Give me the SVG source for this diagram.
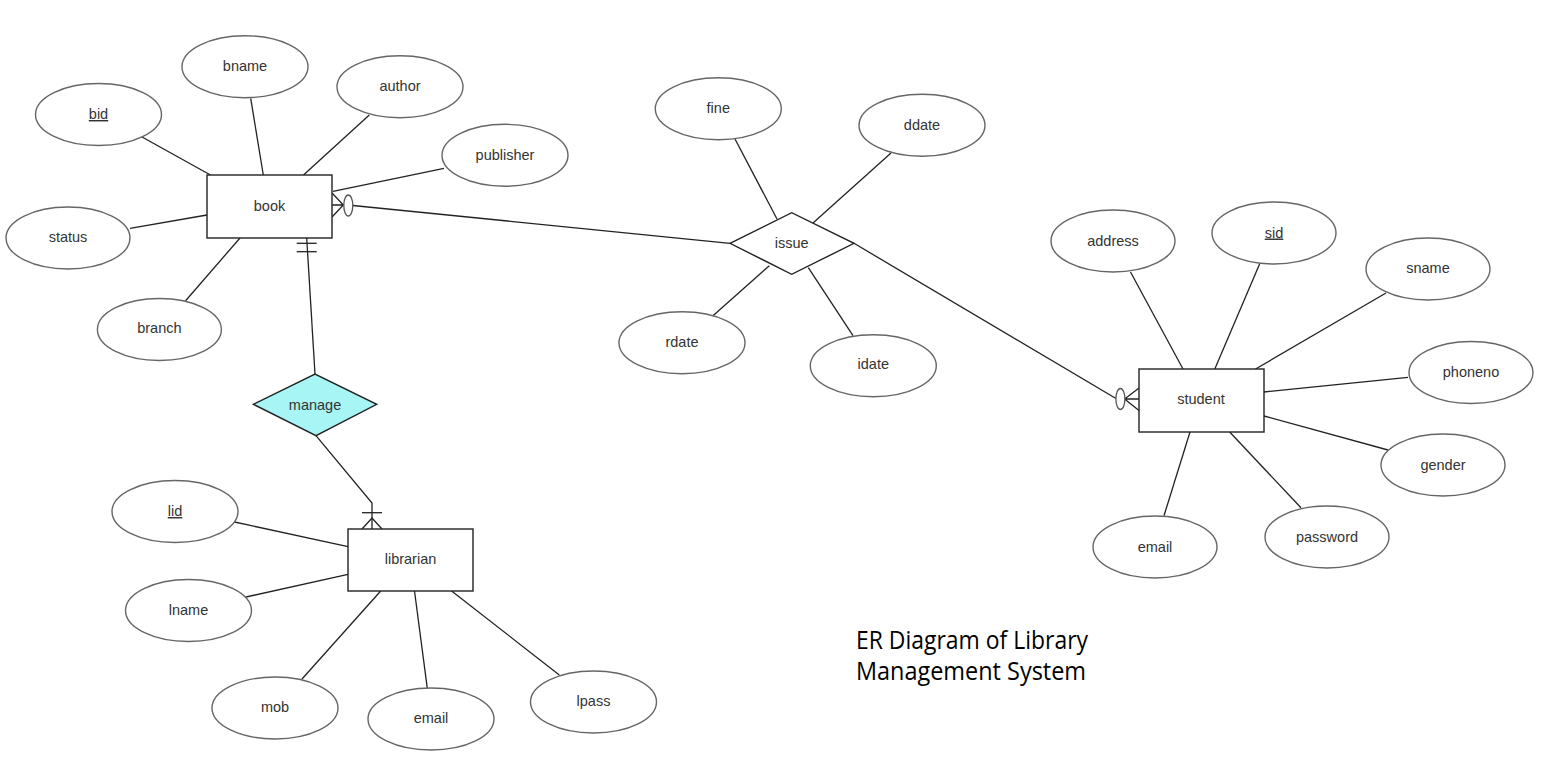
<svg xmlns="http://www.w3.org/2000/svg" width="1564" height="780" viewBox="0 0 1564 780">
<style>
.bg{fill:#ffffff}
.ent{fill:#ffffff;stroke:#222;stroke-width:1.4}
.rel{fill:#ffffff;stroke:#222;stroke-width:1.4}
.relc{fill:#a7f5f5;stroke:#222;stroke-width:1.4}
.att{fill:#ffffff;stroke:#666;stroke-width:1.4}
.lbl{font-family:"Liberation Sans",Arial,sans-serif;font-size:14.5px;fill:#333;text-anchor:middle}
.key{text-decoration:underline}
.ln{fill:none;stroke:#222;stroke-width:1.3}
.card{fill:#ffffff;stroke:#555;stroke-width:1.3}
.title{font-family:"Open Sans","Noto Sans",sans-serif;font-size:25px;fill:#000}
</style>
<rect class="bg" x="0" y="0" width="1564" height="780"/>

<g id="connectors">
  <!-- book attributes -->
  <line class="ln" x1="141.6" y1="136.7" x2="210.5" y2="175"/>
  <line class="ln" x1="250.7" y1="98.3" x2="263.3" y2="175"/>
  <line class="ln" x1="369.3" y1="115" x2="303.5" y2="175"/>
  <line class="ln" x1="444" y1="168.3" x2="333" y2="191.3"/>
  <line class="ln" x1="130" y1="228.3" x2="207" y2="215"/>
  <line class="ln" x1="185.6" y1="300.7" x2="240" y2="238"/>
  <!-- issue attributes -->
  <line class="ln" x1="735" y1="139" x2="777" y2="219"/>
  <line class="ln" x1="891" y1="153" x2="813" y2="223"/>
  <line class="ln" x1="713" y1="315.7" x2="769.3" y2="265.7"/>
  <line class="ln" x1="853" y1="335.7" x2="808.3" y2="267.7"/>
  <!-- student attributes -->
  <line class="ln" x1="1130.5" y1="272" x2="1183" y2="369"/>
  <line class="ln" x1="1259.6" y1="264" x2="1214.8" y2="369"/>
  <line class="ln" x1="1386" y1="293" x2="1255.6" y2="369"/>
  <line class="ln" x1="1408" y1="377.4" x2="1264" y2="392"/>
  <line class="ln" x1="1388" y1="450" x2="1264" y2="416"/>
  <line class="ln" x1="1301" y1="507.8" x2="1229.7" y2="432"/>
  <line class="ln" x1="1164" y1="515.7" x2="1190" y2="432"/>
  <!-- librarian attributes -->
  <line class="ln" x1="234.5" y1="522" x2="348" y2="546.7"/>
  <line class="ln" x1="246" y1="597" x2="348" y2="574.3"/>
  <line class="ln" x1="301.8" y1="679.3" x2="380.7" y2="591"/>
  <line class="ln" x1="427.3" y1="688.3" x2="414.5" y2="591"/>
  <line class="ln" x1="559.3" y1="675" x2="451.6" y2="591"/>

  <!-- book - issue (zero or many at book) -->
  <line class="ln" x1="352.8" y1="205.5" x2="730" y2="243.3"/>
  <path class="ln" d="M332.3,193.3 L343.3,205 L332.3,216.7 M332.3,205 L343.3,205"/>
  <ellipse class="card" cx="348.3" cy="205.5" rx="4.5" ry="10.5"/>

  <!-- issue - student (zero or many at student) -->
  <line class="ln" x1="854" y1="243.3" x2="1116" y2="398.5"/>
  <path class="ln" d="M1139,388 L1124.6,399 L1139,410.6 M1124.6,399 L1139,399"/>
  <ellipse class="card" cx="1120.4" cy="399" rx="4.5" ry="10.5"/>

  <!-- book - manage (one and only one at book) -->
  <line class="ln" x1="306.7" y1="238" x2="315" y2="374"/>
  <line class="ln" x1="296.7" y1="243.3" x2="316.7" y2="243.3"/>
  <line class="ln" x1="296.7" y1="251.7" x2="316.7" y2="251.7"/>

  <!-- manage - librarian (one or many at librarian) -->
  <polyline class="ln" points="316,435.7 372,503 372,529"/>
  <line class="ln" x1="362" y1="512.7" x2="382" y2="512.7"/>
  <path class="ln" d="M362,529 L372,518 L382,529"/>
</g>

<!-- entities -->
<g id="book">
  <rect class="ent" x="207" y="175" width="125" height="63"/>
  <text class="lbl" x="269.5" y="211">book</text>
</g>
<g id="student">
  <rect class="ent" x="1139" y="369" width="125" height="63"/>
  <text class="lbl" x="1201" y="404">student</text>
</g>
<g id="librarian">
  <rect class="ent" x="348" y="529" width="125" height="62"/>
  <text class="lbl" x="410.5" y="564">librarian</text>
</g>

<!-- relationships -->
<g id="issue">
  <polygon class="rel" points="730,243.3 791.7,212.7 854,243.3 791.7,274.3"/>
  <text class="lbl" x="791.7" y="248">issue</text>
</g>
<g id="manage">
  <polygon class="relc" points="253.3,404.3 315,374 376.7,404.3 316,435.7"/>
  <text class="lbl" x="315" y="409.5">manage</text>
</g>

<!-- book attributes -->
<g id="attr-bid">
  <ellipse class="att" cx="98.5" cy="114.5" rx="63" ry="31"/>
  <text class="lbl key" x="98.5" y="119">bid</text>
</g>
<g id="attr-bname">
  <ellipse class="att" cx="245" cy="66.7" rx="63" ry="31"/>
  <text class="lbl" x="245" y="71">bname</text>
</g>
<g id="attr-author">
  <ellipse class="att" cx="400" cy="86.7" rx="63" ry="31"/>
  <text class="lbl" x="400" y="91">author</text>
</g>
<g id="attr-publisher">
  <ellipse class="att" cx="505" cy="155.3" rx="63" ry="31"/>
  <text class="lbl" x="505" y="159.5">publisher</text>
</g>
<g id="attr-status">
  <ellipse class="att" cx="68" cy="238" rx="62" ry="31"/>
  <text class="lbl" x="68" y="242">status</text>
</g>
<g id="attr-branch">
  <ellipse class="att" cx="159.4" cy="329.5" rx="62" ry="31"/>
  <text class="lbl" x="159.4" y="333">branch</text>
</g>

<!-- issue attributes -->
<g id="attr-fine">
  <ellipse class="att" cx="718.3" cy="108.7" rx="63" ry="31"/>
  <text class="lbl" x="718.3" y="113">fine</text>
</g>
<g id="attr-ddate">
  <ellipse class="att" cx="922" cy="125.3" rx="63" ry="31"/>
  <text class="lbl" x="922" y="129.5">ddate</text>
</g>
<g id="attr-rdate">
  <ellipse class="att" cx="682" cy="342.7" rx="63" ry="31"/>
  <text class="lbl" x="682" y="346.5">rdate</text>
</g>
<g id="attr-idate">
  <ellipse class="att" cx="873.3" cy="365.7" rx="63" ry="31"/>
  <text class="lbl" x="873.3" y="369">idate</text>
</g>

<!-- student attributes -->
<g id="attr-address">
  <ellipse class="att" cx="1113" cy="241" rx="62" ry="31"/>
  <text class="lbl" x="1113" y="245.5">address</text>
</g>
<g id="attr-sid">
  <ellipse class="att" cx="1274" cy="233" rx="62" ry="31"/>
  <text class="lbl key" x="1274" y="237.5">sid</text>
</g>
<g id="attr-sname">
  <ellipse class="att" cx="1428" cy="269" rx="62" ry="31"/>
  <text class="lbl" x="1428" y="273">sname</text>
</g>
<g id="attr-phoneno">
  <ellipse class="att" cx="1471" cy="372.5" rx="62" ry="31"/>
  <text class="lbl" x="1471" y="377">phoneno</text>
</g>
<g id="attr-gender">
  <ellipse class="att" cx="1443" cy="465" rx="62" ry="31"/>
  <text class="lbl" x="1443" y="469.5">gender</text>
</g>
<g id="attr-password">
  <ellipse class="att" cx="1327" cy="537" rx="62" ry="31"/>
  <text class="lbl" x="1327" y="541.5">password</text>
</g>
<g id="attr-semail">
  <ellipse class="att" cx="1155" cy="547" rx="62" ry="31"/>
  <text class="lbl" x="1155" y="551.5">email</text>
</g>

<!-- librarian attributes -->
<g id="attr-lid">
  <ellipse class="att" cx="175" cy="511.5" rx="63" ry="31"/>
  <text class="lbl key" x="175" y="516">lid</text>
</g>
<g id="attr-lname">
  <ellipse class="att" cx="188.5" cy="610.5" rx="63" ry="31"/>
  <text class="lbl" x="188.5" y="614.5">lname</text>
</g>
<g id="attr-mob">
  <ellipse class="att" cx="275" cy="708" rx="63" ry="31"/>
  <text class="lbl" x="275" y="712">mob</text>
</g>
<g id="attr-lemail">
  <ellipse class="att" cx="431" cy="719" rx="63" ry="31"/>
  <text class="lbl" x="431" y="723">email</text>
</g>
<g id="attr-lpass">
  <ellipse class="att" cx="593.5" cy="702" rx="63" ry="31"/>
  <text class="lbl" x="593.5" y="706">lpass</text>
</g>

<g id="title">
  <text class="title" x="856" y="649" textLength="232" lengthAdjust="spacingAndGlyphs">ER Diagram of Library</text>
  <text class="title" x="856" y="680" textLength="230" lengthAdjust="spacingAndGlyphs">Management System</text>
</g>
</svg>
